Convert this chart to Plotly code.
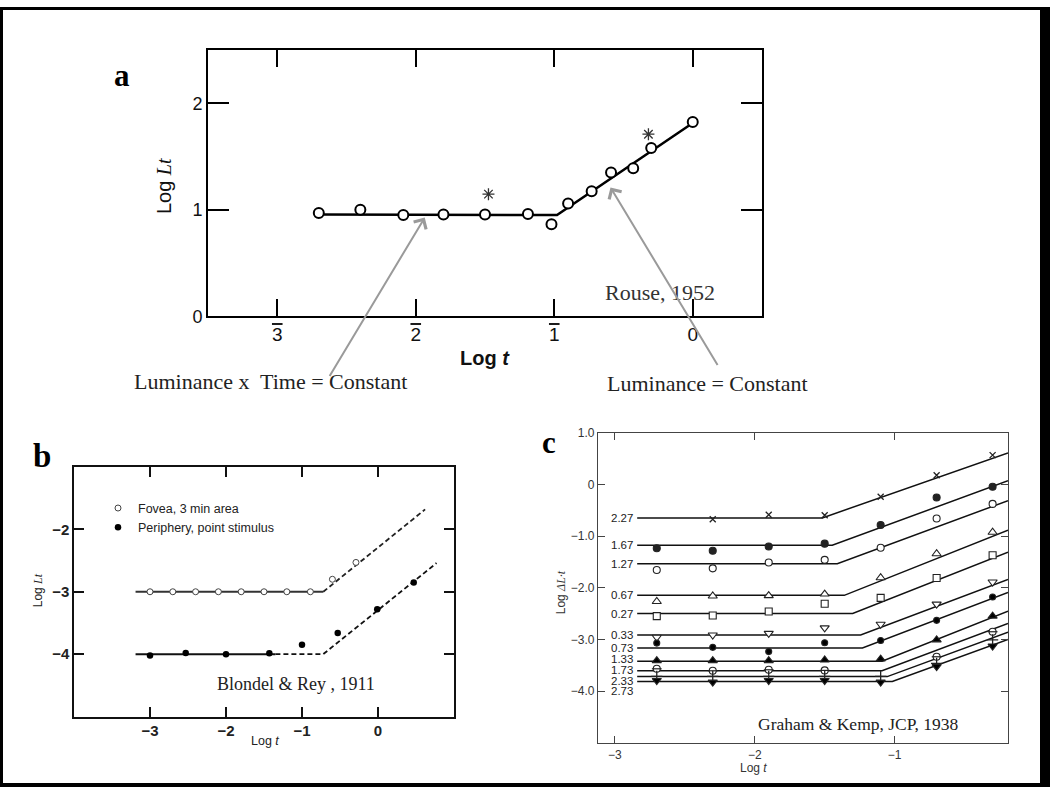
import plotly.graph_objects as go

W, H = 1050, 797

# ---------------- Panel a : Rouse, 1952 ----------------
a_logt = [-2.70, -2.40, -2.09, -1.80, -1.50, -1.19, -1.02, -0.90, -0.73, -0.59, -0.43, -0.30, 0.00]
a_loglt = [0.97, 1.00, 0.95, 0.955, 0.955, 0.96, 0.865, 1.06, 1.175, 1.35, 1.39, 1.58, 1.825]
a_fit_x = [-2.70, -0.98, 0.00]
a_fit_y = [0.955, 0.95, 1.815]
a_star_x = [-1.475, -0.32]
a_star_y = [1.147, 1.71]
a_xticks = [-3, -2, -1, 0]
a_xticktext = ["<span style='text-decoration:overline'>3</span>",
               "<span style='text-decoration:overline'>2</span>",
               "<span style='text-decoration:overline'>1</span>", "0"]
a_yticks = [0, 1, 2]
a_yticktext = ["0", "1", "2"]

# ---------------- Panel b : Blondel & Rey, 1911 ----------------
b_fovea_x = [-3.0, -2.7, -2.4, -2.1, -1.8, -1.5, -1.2, -0.89, -0.60, -0.29]
b_fovea_y = [-3.0, -3.0, -3.0, -3.0, -3.0, -3.0, -3.0, -3.0, -2.80, -2.53]
b_periph_x = [-3.0, -2.53, -2.0, -1.43, -1.0, -0.53, -0.01, 0.47]
b_periph_y = [-4.02, -3.98, -4.0, -3.985, -3.85, -3.66, -3.28, -2.85]
b_fovea_solid_x = [-3.19, -0.72]
b_fovea_solid_y = [-3.0, -3.0]
b_fovea_dash_x = [-0.72, 0.62]
b_fovea_dash_y = [-3.0, -1.68]
b_periph_solid_x = [-3.19, -1.35]
b_periph_solid_y = [-4.0, -4.0]
b_periph_dash_x = [-1.35, -0.72, 0.77]
b_periph_dash_y = [-4.0, -4.0, -2.54]
b_xticks = [-3, -2, -1, 0]
b_xticktext = ["\u22123", "\u22122", "\u22121", "0"]
b_yticks = [-2, -3, -4]
b_yticktext = ["\u22122", "\u22123", "\u22124"]

# ---------------- Panel c : Graham & Kemp, 1938 ----------------
c_logt = [-2.7, -2.3, -1.9, -1.5, -1.1, -0.7, -0.3]
c_labels = ["2.27", "1.67", "1.27", "0.67", "0.27", "0.33", "0.73", "1.33", "1.73", "2.33", "2.73"]
c_227 = [None, -0.673, -0.585, -0.597, -0.239, 0.176, 0.566]
c_167 = [-1.233, -1.283, -1.20, -1.145, -0.786, -0.252, -0.044]
c_127 = [-1.654, -1.623, -1.509, -1.459, -1.226, -0.660, -0.377]
c_067 = [-2.264, -2.157, -2.151, -2.12, -1.805, -1.340, -0.925]
c_027 = [-2.547, -2.535, -2.459, -2.308, -2.195, -1.811, -1.371]
c_033 = [-2.956, -2.912, -2.881, -2.774, -2.704, -2.314, -1.887]
c_073 = [-3.069, -3.151, -3.233, -3.063, -3.019, -2.629, -2.176]
c_133 = [-3.409, -3.409, -3.409, -3.396, -3.377, -3.006, -2.547]
c_173 = [-3.566, -3.604, -3.585, -3.597, None, -3.333, -2.849]
c_233 = [-3.711, -3.711, -3.711, -3.711, -3.711, -3.459, -3.006]
c_273 = [-3.792, -3.824, -3.792, -3.792, -3.824, -3.522, -3.126]
c_level = [-0.648, -1.175, -1.535, -2.145, -2.497, -2.912, -3.164, -3.421, -3.604, -3.717, -3.811]
c_break = [-1.517, -1.446, -1.41, -1.36, -1.30, -1.243, -1.23, -1.09, -1.09, -1.053, -1.017]
c_end_y = [0.61, 0.07, -0.314, -0.885, -1.31, -1.84, -2.09, -2.45, -2.69, -2.86, -3.0]
c_line_start = -2.84
c_line_end = -0.19
c_label_shift = [0, 0, 0, 0, 0, 0, 0, 2, 1, -4, -10]
c_xticks = [-3, -2, -1]
c_xticktext = ["\u22123", "\u22122", "\u22121"]
c_yticks = [1.0, 0, -1.0, -2.0, -3.0, -4.0]
c_yticktext = ["1.0", "0", "\u22121.0", "\u22122.0", "\u22123.0", "\u22124.0"]

c_series = [c_227, c_167, c_127, c_067, c_027, c_033, c_073, c_133, c_173, c_233, c_273]
c_symbols = ["x-thin-open", "circle", "circle", "triangle-up", "square", "triangle-down",
             "circle", "triangle-up", "circle", "cross-thin-open", "triangle-down"]
c_fill = ["#222222", "#222222", "white", "white", "white", "white",
          "black", "black", "white", "#222222", "black"]
c_size = [6, 7, 7, 8, 7, 8, 6, 8, 7, 8, 8]

SANS = "Liberation Sans, Arial, sans-serif"
SERIF = "Liberation Serif, Times New Roman, serif"


def px_x(p):
    return p / W


def px_y(p):
    return 1 - p / H


fig = go.Figure()

# ---- panel a traces
fig.add_trace(go.Scatter(x=a_fit_x, y=a_fit_y, mode="lines", line=dict(color="black", width=2.5),
                         xaxis="x", yaxis="y", showlegend=False, hoverinfo="skip"))
fig.add_trace(go.Scatter(x=a_logt, y=a_loglt, mode="markers",
                         marker=dict(symbol="circle", size=10, color="white", line=dict(color="black", width=2)),
                         xaxis="x", yaxis="y", showlegend=False))
fig.add_trace(go.Scatter(x=a_star_x, y=a_star_y, mode="markers",
                         marker=dict(symbol="asterisk-open", size=10, color="#333333",
                                     line=dict(color="#333333", width=1.3)),
                         xaxis="x", yaxis="y", showlegend=False))

# ---- panel b traces
fig.add_trace(go.Scatter(x=b_fovea_solid_x, y=b_fovea_solid_y, mode="lines", line=dict(color="#333333", width=2),
                         xaxis="x2", yaxis="y2", showlegend=False, hoverinfo="skip"))
fig.add_trace(go.Scatter(x=b_fovea_dash_x, y=b_fovea_dash_y, mode="lines",
                         line=dict(color="#222222", width=1.8, dash="5px,3px"),
                         xaxis="x2", yaxis="y2", showlegend=False, hoverinfo="skip"))
fig.add_trace(go.Scatter(x=b_periph_solid_x, y=b_periph_solid_y, mode="lines", line=dict(color="#111111", width=2),
                         xaxis="x2", yaxis="y2", showlegend=False, hoverinfo="skip"))
fig.add_trace(go.Scatter(x=b_periph_dash_x, y=b_periph_dash_y, mode="lines",
                         line=dict(color="#111111", width=1.8, dash="5px,3px"),
                         xaxis="x2", yaxis="y2", showlegend=False, hoverinfo="skip"))
fig.add_trace(go.Scatter(x=b_fovea_x, y=b_fovea_y, mode="markers", name="Fovea, 3 min area",
                         marker=dict(symbol="circle", size=6, color="white", line=dict(color="#444444", width=1)),
                         xaxis="x2", yaxis="y2", showlegend=True))
fig.add_trace(go.Scatter(x=b_periph_x, y=b_periph_y, mode="markers", name="Periphery, point stimulus",
                         marker=dict(symbol="circle", size=6.5, color="black", line=dict(color="black", width=0)),
                         xaxis="x2", yaxis="y2", showlegend=True))

# ---- panel c traces
for i, lab in enumerate(c_labels):
    fig.add_trace(go.Scatter(x=[c_line_start, c_break[i], c_line_end],
                             y=[c_level[i], c_level[i], c_end_y[i]],
                             mode="lines", line=dict(color="#111111", width=1.5),
                             xaxis="x3", yaxis="y3", showlegend=False, hoverinfo="skip"))
for i, lab in enumerate(c_labels):
    sym = c_symbols[i]
    if sym.endswith("-open"):
        mk = dict(symbol=sym, size=c_size[i], color=c_fill[i], line=dict(color="#222222", width=1.3))
    else:
        mk = dict(symbol=sym, size=c_size[i], color=c_fill[i], line=dict(color="#222222", width=1.1))
    fig.add_trace(go.Scatter(x=c_logt, y=c_series[i], mode="markers", name=lab, marker=mk,
                             xaxis="x3", yaxis="y3", showlegend=False))
    if lab == "1.73":
        fig.add_trace(go.Scatter(x=c_logt, y=c_series[i], mode="markers", name=lab,
                                 marker=dict(symbol="line-ew-open", size=7, color="#222222",
                                             line=dict(color="#222222", width=1.2)),
                                 xaxis="x3", yaxis="y3", showlegend=False))

axis_common = dict(showgrid=False, zeroline=False, showline=True, mirror="all", ticks="inside")

layout = dict(
    width=W, height=H,
    margin=dict(l=0, r=0, t=0, b=0),
    paper_bgcolor="white", plot_bgcolor="white",
    font=dict(family=SANS, color="#111111"),
    xaxis=dict(domain=[px_x(208), px_x(762)], range=[-3.5, 0.5], anchor="y",
               tickvals=a_xticks, ticktext=a_xticktext, ticklen=17, tickwidth=2, linewidth=2,
               linecolor="black", tickcolor="black", tickfont=dict(size=19, family=SANS, color="#111"),
               **axis_common),
    yaxis=dict(domain=[px_y(316), px_y(44)], range=[0, 2.5], anchor="x",
               tickvals=a_yticks, ticktext=a_yticktext, ticklen=21, tickwidth=2, linewidth=2,
               linecolor="black", tickcolor="black", tickfont=dict(size=18, family=SANS, color="#111"),
               **axis_common),
    xaxis2=dict(domain=[px_x(74), px_x(454)], range=[-4, 1], anchor="y2",
                tickvals=b_xticks, ticktext=b_xticktext, ticklen=10, tickwidth=1.5, linewidth=1.5,
                linecolor="#111", tickcolor="#111",
                tickfont=dict(size=15, family=SANS, color="#222", weight="bold"), **axis_common),
    yaxis2=dict(domain=[px_y(725), px_y(470)], range=[-5, -1], anchor="x2",
                tickvals=b_yticks, ticktext=b_yticktext, ticklen=10, tickwidth=1.5, linewidth=1.5,
                linecolor="#111", tickcolor="#111",
                tickfont=dict(size=15, family=SANS, color="#222", weight="bold"), **axis_common),
    xaxis3=dict(domain=[px_x(598), px_x(1008)], range=[-3.12, -0.19], anchor="y3",
                tickvals=c_xticks, ticktext=c_xticktext, ticklen=7, tickwidth=1, linewidth=1.3,
                linecolor="#444", tickcolor="#444",
                tickfont=dict(size=12, family=SANS, color="#333"), **axis_common),
    yaxis3=dict(domain=[px_y(752), px_y(435)], range=[-5, 1.0], anchor="x3",
                tickvals=c_yticks, ticktext=c_yticktext, ticklen=7, tickwidth=1, linewidth=1.3,
                linecolor="#444", tickcolor="#444",
                tickfont=dict(size=12, family=SANS, color="#333"), **axis_common),
    legend=dict(x=px_x(98), y=px_y(497), xanchor="left", yanchor="top", bgcolor="rgba(0,0,0,0)",
                font=dict(size=12.5, family=SANS, color="#222"), itemwidth=30, tracegroupgap=0),
)
fig.update_layout(**layout)

ann = []


def paper_text(x, y, text, size, family=SERIF, color="#222", **kw):
    d = dict(x=px_x(x), y=px_y(y), xref="paper", yref="paper", text=text, showarrow=False,
             font=dict(size=size, family=family, color=color), xanchor="center", yanchor="middle")
    d.update(kw)
    ann.append(d)


# panel letters
paper_text(122, 70, "<b>a</b>", 31, color="black")
paper_text(42, 459, "<b>b</b>", 33, color="black")
paper_text(549, 445, "<b>c</b>", 31, color="black")

# axis titles
serif_i = "<span style='font-family:Liberation Serif, serif'><i>%s</i></span>"
paper_text(164, 183, "Log " + serif_i % "Lt", 20, family=SANS, color="#111", textangle=-90)
paper_text(485, 359, "<b>Log</b> " + "<b><i>t</i></b>", 20, family=SANS, color="#111")
paper_text(38, 596, "Log " + serif_i % "Lt", 12, family=SANS, color="#222", textangle=-90)
paper_text(265, 750, "Log " + "<i>t</i>", 12.5, family=SANS, color="#222")
paper_text(561, 598, "Log " + serif_i % "\u0394L\u00b7t", 12, family=SANS, color="#333", textangle=-90)
paper_text(753, 778, "Log " + "<i>t</i>", 12, family=SANS, color="#333")

# source / caption texts
paper_text(660, 292, "Rouse, 1952", 22, color="#333")
paper_text(270, 383, "Luminance x  Time = Constant", 22, color="#222")
paper_text(707, 385, "Luminance = Constant", 22, color="#222")
paper_text(296, 692, "Blondel &amp; Rey , 1911", 18, color="#222")
paper_text(858, 733, "Graham &amp; Kemp, JCP, 1938", 17.5, color="#222")

# panel c series labels
for i, lab in enumerate(c_labels):
    ann.append(dict(x=c_line_start, y=c_level[i], xref="x3", yref="y3", text=lab, showarrow=False,
                    xanchor="right", yanchor="middle", xshift=-2, yshift=c_label_shift[i],
                    font=dict(size=11.5, family=SANS, color="#222")))

# gray arrows in panel a
ann.append(dict(x=-1.935, y=0.927, xref="x", yref="y", ax=-96, ay=160, axref="pixel", ayref="pixel",
                text="", showarrow=True, arrowhead=4, arrowsize=1.4, arrowwidth=2, arrowcolor="#9a9a9a"))
ann.append(dict(x=-0.594, y=1.21, xref="x", yref="y", ax=108, ay=179, axref="pixel", ayref="pixel",
                text="", showarrow=True, arrowhead=4, arrowsize=1.4, arrowwidth=2, arrowcolor="#9a9a9a"))

fig.update_layout(annotations=ann)

# outer frame of the composite figure
shapes = [
    dict(type="rect", xref="paper", yref="paper", x0=0, x1=px_x(3), y0=0, y1=1, fillcolor="black", line_width=0),
    dict(type="rect", xref="paper", yref="paper", x0=0, x1=1, y0=px_y(3), y1=1, fillcolor="black", line_width=0),
    dict(type="rect", xref="paper", yref="paper", x0=px_x(1040), x1=1, y0=0, y1=1, fillcolor="black", line_width=0),
    dict(type="rect", xref="paper", yref="paper", x0=0, x1=1, y0=0, y1=px_y(793), fillcolor="black", line_width=0),
]
fig.update_layout(shapes=shapes)

fig.write_html("out.html", config={"displayModeBar": False},
               post_script="document.body.style.margin='0';document.body.style.overflow='hidden';")
